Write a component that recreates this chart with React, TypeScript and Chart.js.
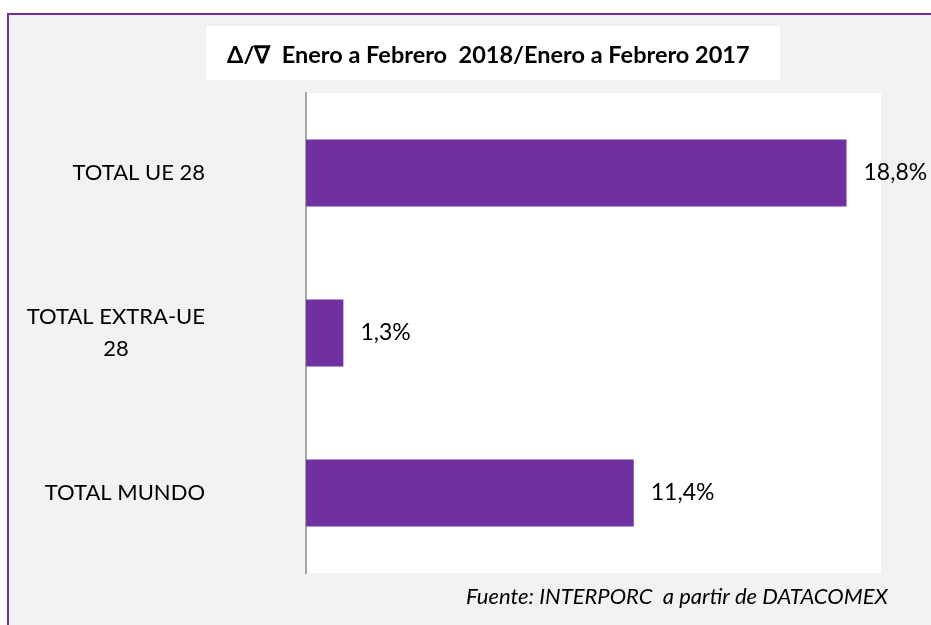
import React, { useEffect, useRef } from "react";
import { Chart, registerables } from "chart.js";

Chart.register(...registerables);

const categories: (string | string[])[] = ["TOTAL UE 28", ["TOTAL EXTRA-UE", "28"], "TOTAL MUNDO"];
const values: number[] = [18.8, 1.3, 11.4];
const titleText = "\u0394/\u2207  Enero a Febrero  2018/Enero a Febrero 2017";
const sourceText = "Fuente: INTERPORC  a partir de DATACOMEX";
const xMin = 0;
const xMax = 20;

const PURPLE = "#7030A0";
const GRAY_BG = "#F2F2F2";
const FONT = "Lato, 'Open Sans', sans-serif";

const decorPlugin = {
  id: "decor",
  beforeDraw(chart: any) {
    const { ctx, width, height, chartArea } = chart;
    ctx.save();
    ctx.fillStyle = "#FFFFFF";
    ctx.fillRect(0, 0, width, height);
    // gray chart background
    ctx.fillStyle = GRAY_BG;
    ctx.fillRect(8, 14, width - 8, height - 14);
    // purple border (top and left)
    ctx.strokeStyle = PURPLE;
    ctx.lineWidth = 2;
    ctx.beginPath();
    ctx.moveTo(8, height + 4);
    ctx.lineTo(8, 14);
    ctx.lineTo(width + 4, 14);
    ctx.stroke();
    // plot area
    ctx.fillStyle = "#FFFFFF";
    ctx.fillRect(chartArea.left, chartArea.top, chartArea.right - chartArea.left, chartArea.bottom - chartArea.top);
    // title box
    ctx.fillRect(206, 26, 574, 54);
    ctx.fillStyle = "#000000";
    ctx.font = `bold 23.5px ${FONT}`;
    ctx.textAlign = "left";
    ctx.textBaseline = "middle";
    ctx.fillText(titleText, 227, 55);
    // source
    ctx.font = `italic 22px ${FONT}`;
    ctx.fillText(sourceText, 466, 597);
    ctx.restore();
  },
  afterDatasetsDraw(chart: any) {
    const { ctx } = chart;
    const meta = chart.getDatasetMeta(0);
    const yScale = chart.scales.y;
    ctx.save();
    ctx.fillStyle = "#000000";
    ctx.textBaseline = "middle";
    // value labels
    ctx.font = `23px ${FONT}`;
    ctx.textAlign = "left";
    meta.data.forEach((bar: any, i: number) => {
      const v = values[i];
      ctx.fillText(v.toFixed(1).replace(".", ",") + "%", bar.x + 17, bar.y);
    });
    // category labels: block right-aligned, lines centered within block
    ctx.font = `22px ${FONT}`;
    const lineH = 32;
    const rightEdge = 205;
    categories.forEach((c, i) => {
      const lines = Array.isArray(c) ? c : [c];
      const widths = lines.map((l) => ctx.measureText(l).width);
      const blockW = Math.max(...widths);
      const cx = rightEdge - blockW / 2;
      const y0 = yScale.getPixelForValue(i) - ((lines.length - 1) * lineH) / 2;
      ctx.textAlign = "center";
      lines.forEach((l, k) => ctx.fillText(l, cx, y0 + k * lineH));
    });
    ctx.restore();
  },
};

export default function App() {
  const ref = useRef<HTMLCanvasElement | null>(null);
  useEffect(() => {
    if (!ref.current) return;
    const chart = new Chart(ref.current, {
      type: "bar",
      data: {
        labels: categories as any,
        datasets: [
          {
            data: values,
            backgroundColor: PURPLE,
            borderWidth: 0,
            barPercentage: 0.42,
            categoryPercentage: 1,
          },
        ],
      },
      options: {
        indexAxis: "y",
        animation: false,
        responsive: false,
        maintainAspectRatio: false,
        layout: { padding: { left: 0, top: 93, right: 50, bottom: 52 } },
        plugins: { legend: { display: false }, title: { display: false }, tooltip: { enabled: false } },
        scales: {
          x: { display: false, min: xMin, max: xMax },
          y: {
            display: true,
            ticks: { display: false },
            grid: { display: false, drawTicks: false },
            border: { display: true, color: "#A6A6A6", width: 2 },
            afterFit: (scale: any) => {
              scale.width = 306;
            },
          },
        },
      },
      plugins: [decorPlugin],
    });
    return () => chart.destroy();
  }, []);
  return (
    <div style={{ position: "absolute", left: 0, top: 0, width: 931, height: 625 }}>
      <canvas ref={ref} width={931} height={625} style={{ display: "block" }} />
    </div>
  );
}
